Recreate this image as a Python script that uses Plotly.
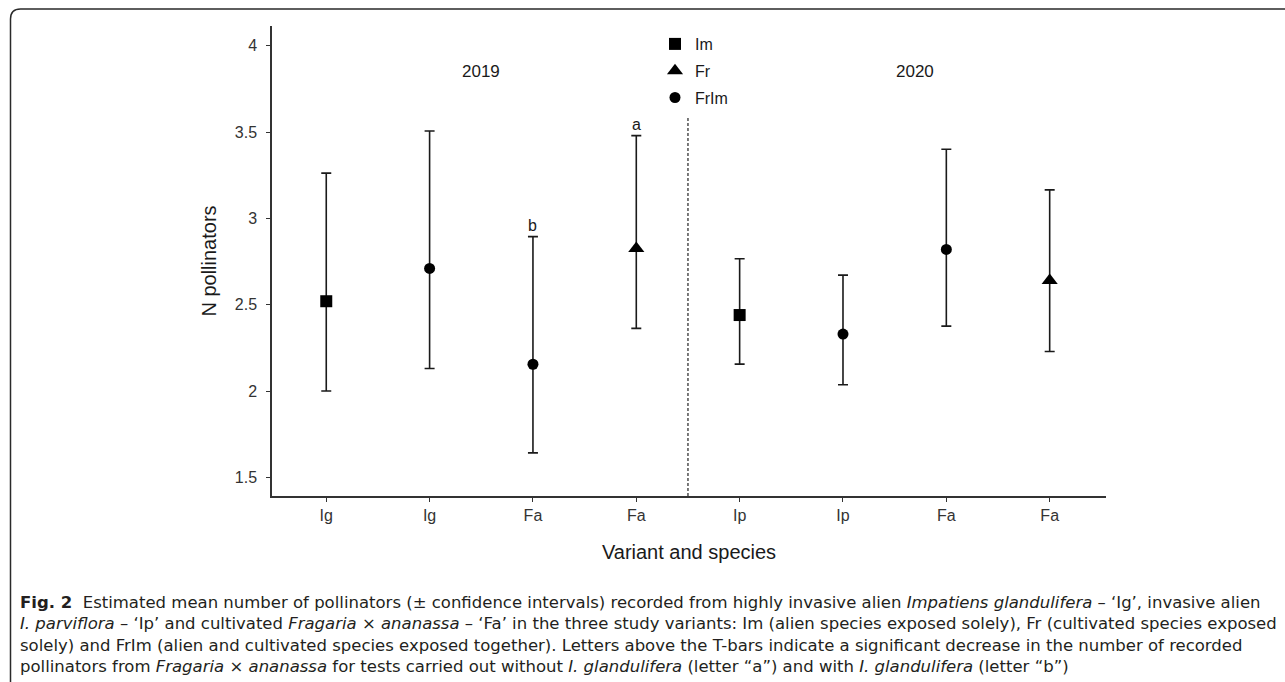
import plotly.graph_objects as go

# ---------------- data ----------------
categories = ["Ig", "Ig", "Fa", "Fa", "Ip", "Ip", "Fa", "Fa"]
positions = [1, 2, 3, 4, 5, 6, 7, 8]
variants = ["Im", "FrIm", "FrIm", "Fr", "Im", "FrIm", "FrIm", "Fr"]
means = [2.52, 2.71, 2.155, 2.826, 2.44, 2.33, 2.82, 2.64]
ci_low = [2.00, 2.13, 1.642, 2.363, 2.156, 2.036, 2.376, 2.229]
ci_high = [3.262, 3.506, 2.894, 3.479, 2.766, 2.671, 3.40, 3.165]
sig_letters = {3: "b", 4: "a"}
year_labels = ["2019", "2020"]
year_pos = [2.5, 6.7]
legend_order = ["Im", "Fr", "FrIm"]
symbols = {"Im": "square", "Fr": "triangle-up", "FrIm": "circle"}
sizes = {"Im": 12, "Fr": 14, "FrIm": 11}

caption_lines = [
    "<b>Fig. 2</b>  Estimated mean number of pollinators (± confidence intervals) recorded from highly invasive alien <i>Impatiens glandulifera</i> – ‘Ig’, invasive alien",
    "<i>I. parviflora</i> – ‘Ip’ and cultivated <i>Fragaria</i> × <i>ananassa</i> – ‘Fa’ in the three study variants: Im (alien species exposed solely), Fr (cultivated species exposed",
    "solely) and FrIm (alien and cultivated species exposed together). Letters above the T-bars indicate a significant decrease in the number of recorded",
    "pollinators from <i>Fragaria</i> × <i>ananassa</i> for tests carried out without <i>I. glandulifera</i> (letter “a”) and with <i>I. glandulifera</i> (letter “b”)",
]

# ---------------- layout geometry ----------------
W, H = 1285, 682
L, R, T, B = 272, 179, 26, 186
PW, PH = W - L - R, H - T - B


def px(xp):
    return (xp - L) / PW


def py(yp):
    return (H - B - yp) / PH


FONT = "Liberation Sans, Arial, sans-serif"
CAPFONT = "DejaVu Sans, Open Sans, sans-serif"

fig = go.Figure()

for v in legend_order:
    idx = [i for i, vv in enumerate(variants) if vv == v]
    fig.add_trace(go.Scatter(
        x=[positions[i] for i in idx],
        y=[means[i] for i in idx],
        mode="markers",
        name=v,
        legendgroup=v,
        marker=dict(symbol=symbols[v], size=sizes[v], color="black"),
        error_y=dict(
            type="data", symmetric=False,
            array=[ci_high[i] - means[i] for i in idx],
            arrayminus=[means[i] - ci_low[i] for i in idx],
            color="#1a1a1a", thickness=1.6, width=5,
        ),
    ))

# dashed separator
fig.add_shape(type="line", x0=4.5, x1=4.5, y0=1.392, y1=3.587,
              xref="x", yref="y",
              line=dict(color="#333333", width=1.3, dash="3px,2px"))

# significance letters
for p, letter in sig_letters.items():
    fig.add_annotation(x=p, y=ci_high[p - 1], text=letter, showarrow=False,
                       yanchor="bottom", yshift=1, xref="x", yref="y",
                       font=dict(family=FONT, size=16, color="#1a1a1a"))

# year labels
for yl, xp in zip(year_labels, year_pos):
    fig.add_annotation(x=xp, y=3.848, text=yl, showarrow=False, xref="x", yref="y",
                       font=dict(family=FONT, size=17, color="#1a1a1a"))

# caption (one multi-line text block)
fig.add_annotation(x=px(18), y=py(634), text="<br>".join(caption_lines),
                   showarrow=False, xref="paper", yref="paper",
                   xanchor="left", yanchor="middle", align="left",
                   font=dict(family=CAPFONT, size=16.5, color="#231f20"))

# rounded frame
r = 10
path = (f"M {px(10.5)},{py(H + 5)} L {px(10.5)},{py(9 + r)} "
        f"Q {px(10.5)},{py(9)} {px(10.5 + r)},{py(9)} L {px(W + 5)},{py(9)}")
fig.add_shape(type="path", path=path, xref="paper", yref="paper",
              line=dict(color="#2a2a2a", width=1.5))

fig.update_layout(
    width=W, height=H,
    margin=dict(l=L, r=R, t=T, b=B, autoexpand=False),
    paper_bgcolor="white", plot_bgcolor="white",
    font=dict(family=FONT, color="#1a1a1a"),
    showlegend=True,
    legend=dict(x=px(655), y=py(27), xanchor="left", yanchor="top",
                font=dict(family=FONT, size=16, color="#1a1a1a"),
                tracegroupgap=3,
                bgcolor="rgba(0,0,0,0)", itemclick=False),
    xaxis=dict(
        range=[0.475, 8.545], tickmode="array", tickvals=positions,
        ticktext=categories, showgrid=False, zeroline=False,
        showline=True, linecolor="#333333", linewidth=1.5,
        ticks="outside", ticklen=4, tickcolor="#333333", tickwidth=1.2,
        tickfont=dict(family=FONT, size=16, color="#333333"),
        title=dict(text="Variant and species", standoff=22,
                   font=dict(family=FONT, size=20, color="#1a1a1a")),
    ),
    yaxis=dict(
        range=[1.392, 4.114], tickmode="array", tickvals=[1.5, 2, 2.5, 3, 3.5, 4],
        ticktext=["1.5", "2", "2.5", "3", "3.5", "4"],
        showgrid=False, zeroline=False,
        showline=True, linecolor="#333333", linewidth=1.5,
        ticks="outside", ticklen=4, tickcolor="#333333", tickwidth=1.2,
        ticklabelstandoff=6,
        tickfont=dict(family=FONT, size=16, color="#333333"),
        title=dict(text="N pollinators", standoff=13,
                   font=dict(family=FONT, size=20, color="#1a1a1a")),
    ),
)

fig.write_html("out.html")
